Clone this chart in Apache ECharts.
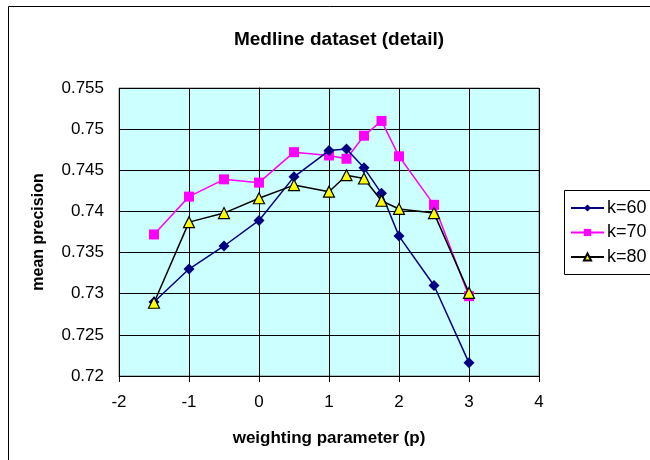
<!DOCTYPE html>
<html>
<head>
<meta charset="utf-8">
<script src="https://cdn.jsdelivr.net/npm/echarts@6/dist/echarts.min.js"></script>
<style>
  html, body { margin: 0; padding: 0; background: #fff; }
  #chart { width: 650px; height: 460px; }
</style>
</head>
<body>
<div id="chart"></div>
<script>
// Weighting parameter values (p) sampled for each run
const pValues = [-1.5, -1, -0.5, 0, 0.5, 1, 1.25, 1.5, 1.75, 2, 2.5, 3];

// Mean precision per neighbourhood size k
const k60 = [0.7290, 0.7330, 0.7358, 0.7389, 0.7442, 0.7474, 0.7476, 0.7453, 0.7422, 0.7370, 0.7310, 0.7216];
const k70 = [0.7372, 0.7418, 0.7439, 0.7435, 0.7472, 0.7468, 0.7464, 0.7492, 0.7510, 0.7467, 0.7408, 0.7297];
const k80 = [0.7289, 0.7387, 0.7398, 0.7416, 0.7432, 0.7424, 0.7444, 0.7440, 0.7413, 0.7403, 0.7398, 0.7301];

const seriesNames = ['k=60', 'k=70', 'k=80'];

// Axis tick labels
const xTicks = ['-2', '-1', '0', '1', '2', '3', '4'];
const yTicks = ['0.72', '0.725', '0.73', '0.735', '0.74', '0.745', '0.75', '0.755'];

const FONT = 'Liberation Sans, Arial, sans-serif';

const pairs = vals => pValues.map((p, i) => [p, vals[i]]);

const chart = echarts.init(document.getElementById('chart'), null, { renderer: 'canvas' });

chart.setOption({
  animation: false,
  backgroundColor: '#ffffff',
  textStyle: { fontFamily: FONT },
  title: {
    text: 'Medline dataset (detail)',
    left: 334,
    textAlign: 'center',
    top: 25,
    textStyle: { fontFamily: FONT, fontSize: 19, fontWeight: 'bold', color: '#000' }
  },
  graphic: [
    // outer chart frame (runs past the right and bottom edges)
    {
      type: 'rect',
      shape: { x: 8.5, y: 6.5, width: 700, height: 500 },
      style: { fill: 'none', stroke: '#000', lineWidth: 1 },
      silent: true,
      z: 0
    },
    // legend box, open past the right edge
    {
      type: 'rect',
      shape: { x: 564.5, y: 190.5, width: 120, height: 84 },
      style: { fill: '#fff', stroke: '#000', lineWidth: 1 },
      silent: true,
      z: 0
    }
  ],
  grid: {
    left: 119,
    top: 88,
    right: 111,
    bottom: 84,
    show: true,
    backgroundColor: '#ccffff',
    borderColor: '#808080',
    borderWidth: 1
  },
  legend: {
    orient: 'vertical',
    left: 564,
    top: 190,
    data: seriesNames,
    borderWidth: 0,
    padding: [9, 0, 8, 6],
    itemWidth: 33,
    itemHeight: 9,
    itemGap: 6.5,
    textStyle: { fontFamily: FONT, fontSize: 18, color: '#000', padding: [0, 0, 0, -2] }
  },
  xAxis: {
    type: 'value',
    min: -2,
    max: 4,
    interval: 1,
    name: 'weighting parameter (p)',
    nameLocation: 'middle',
    nameGap: 54,
    nameTextStyle: { fontFamily: FONT, fontSize: 17, fontWeight: 'bold', color: '#000' },
    axisLine: { onZero: false, lineStyle: { color: '#000', width: 1 } },
    axisTick: { show: true, length: 6, inside: false, lineStyle: { color: '#000' } },
    axisLabel: {
      fontFamily: FONT, fontSize: 17, color: '#000', margin: 18,
      formatter: (v) => xTicks[Math.round(v + 2)]
    },
    splitLine: { show: true, lineStyle: { color: '#000', width: 1 } }
  },
  yAxis: {
    type: 'value',
    min: 0.72,
    max: 0.755,
    interval: 0.005,
    name: 'mean precision',
    nameLocation: 'middle',
    nameGap: 72,
    nameRotate: 90,
    nameTextStyle: { fontFamily: FONT, fontSize: 16, fontWeight: 'bold', color: '#000' },
    axisLine: { show: true, lineStyle: { color: '#000', width: 1 } },
    axisTick: { show: true, length: 6, inside: false, lineStyle: { color: '#000' } },
    axisLabel: {
      fontFamily: FONT, fontSize: 17, color: '#000', margin: 15,
      formatter: (v) => yTicks[Math.round((v - 0.72) / 0.005)]
    },
    splitLine: { show: true, lineStyle: { color: '#000', width: 1 } }
  },
  series: [
    {
      name: seriesNames[0],
      type: 'line',
      data: pairs(k60),
      symbol: 'diamond',
      symbolSize: 11,
      lineStyle: { color: '#000080', width: 1.5 },
      itemStyle: { color: '#000080', borderColor: '#000080', borderWidth: 0 },
      z: 3
    },
    {
      name: seriesNames[1],
      type: 'line',
      data: pairs(k70),
      symbol: 'rect',
      symbolSize: 10,
      lineStyle: { color: '#ff00ff', width: 1.5 },
      itemStyle: { color: '#ff00ff', borderColor: '#ff00ff', borderWidth: 0 },
      z: 2
    },
    {
      name: seriesNames[2],
      type: 'line',
      data: pairs(k80),
      symbol: 'triangle',
      symbolSize: 11,
      lineStyle: { color: '#000000', width: 1.5 },
      itemStyle: { color: '#ffff00', borderColor: '#000000', borderWidth: 1.2 },
      z: 4
    }
  ]
});
</script>
</body>
</html>
